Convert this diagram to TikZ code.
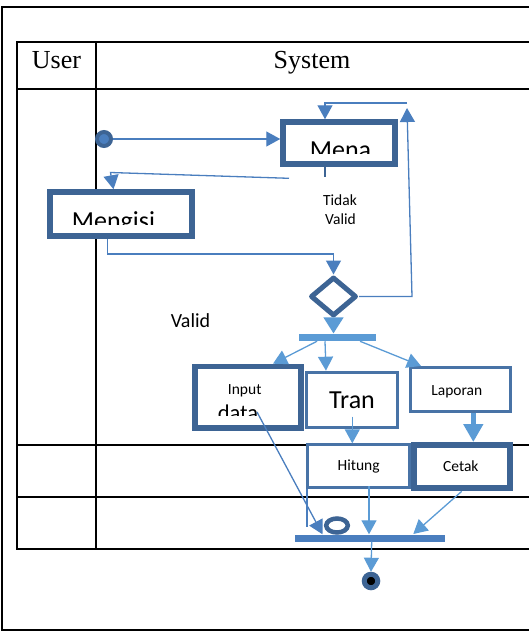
\documentclass[tikz,border=0pt]{standalone}
\usepackage{fontspec}
\setmainfont{Liberation Serif}
\newfontfamily\cali{Carlito}
\usepackage{tikz}
\usetikzlibrary{arrows.meta}
\usetikzlibrary{shapes.geometric}
\usepackage{xcolor}
\definecolor{boxblue}{RGB}{61,100,148}
\definecolor{thinblue}{RGB}{72,115,166}
\definecolor{linblue}{RGB}{74,126,190}
\definecolor{litblue}{RGB}{91,155,213}

\begin{document}
\begin{tikzpicture}[x=1pt, y=-1pt,
  lane/.style={black, line width=2pt},
  thickbox/.style={draw=boxblue, fill=white, line width=5.5pt, inner sep=0pt},
  thinbox/.style={draw=thinblue, fill=white, line width=3pt, inner sep=0pt},
  flow/.style={linblue, line width=1.3pt, -{Triangle[length=14pt,width=15pt]}},
  lflow/.style={litblue, line width=1.3pt, -{Triangle[length=14pt,width=15pt]}},
  smalltxt/.style={font=\cali\fontsize{15.5}{18}\selectfont, inner sep=0pt, anchor=base},
  bigtxt/.style={font=\cali\fontsize{26}{30}\selectfont, inner sep=0pt, anchor=base},
  headtxt/.style={font=\fontsize{26}{30}\selectfont, inner sep=0pt, anchor=base}]

\useasboundingbox (0,0) rectangle (529,632);

% frame and swimlanes
{
\draw[lane] (529,7) -- (2,7) -- (2,630) -- (529,630);
\draw[lane] (529,42) -- (17,42) -- (17,549) -- (529,549);
\draw[lane] (17,89) -- (529,89);
\draw[lane] (17,445) -- (529,445);
\draw[lane] (17,497) -- (529,497);
\draw[lane] (96,42) -- (96,549);

\node[headtxt] (user) at (56.5,68.3) {User};
\node[headtxt] (system) at (312,68.3) {System};
}

% start, login and form
{
\node[circle, draw=boxblue, fill=linblue, line width=4pt, minimum size=14pt, inner sep=0pt] (start) at (104,139) {};

\node[thickbox, minimum width=112pt, minimum height=42pt] (mena) at (339,143) {};
\begin{scope}
\clip (286,125) rectangle (392,153.3);
\node[bigtxt] (menatxt) at (340.5,158.4) {Mena};
\end{scope}

\node[thickbox, minimum width=142pt, minimum height=44pt] (mengisi) at (121,214) {};
\begin{scope}
\clip (53,195) rectangle (189,224.3);
\node[bigtxt] (mengisitxt) at (113.5,229.7) {Mengisi};
\end{scope}

\node[diamond, draw=boxblue, fill=white, line width=5pt, line join=round, minimum width=46pt, minimum height=39pt, inner sep=0pt] (cek) at (333.5,296.5) {};

\node[smalltxt] (tidak) at (340,205.7) {Tidak};
\node[smalltxt] (tidakvalid) at (340.5,224.3) {Valid};
\node[font=\cali\fontsize{20}{24}\selectfont, inner sep=0pt, anchor=base] (valid) at (190.5,327.7) {Valid};
}

% fork and activities
{
\node[fill=litblue, minimum width=77pt, minimum height=7.5pt, inner sep=0pt] (fork) at (337.5,337.3) {};

\node[thickbox, minimum width=106pt, minimum height=61.7pt] (input) at (247.8,397.3) {};
\node[smalltxt] (inputtxt) at (244.7,394.3) {Input};
\begin{scope}
\clip (198,400) rectangle (297,415);
\node[font=\cali\fontsize{22.5}{26}\selectfont, inner sep=0pt, anchor=base] (datatxt) at (238,420.8) {data};
\end{scope}

\node[thinbox, minimum width=91.3pt, minimum height=55.6pt] (tran) at (352.2,400) {};
\node[bigtxt] (trantxt) at (352,408.3) {Tran};

\node[thinbox, minimum width=100.3pt, minimum height=43.7pt] (lapor) at (460.3,389.3) {};
\node[smalltxt] (laportxt) at (456.8,395) {Laporan};

\node[thinbox, minimum width=102pt, minimum height=43pt] (hitung) at (358.5,466.3) {};
\node[smalltxt] (hitungtxt) at (358.7,470.7) {Hitung};

\node[thickbox, line width=6pt, minimum width=96.6pt, minimum height=43.3pt] (cetak) at (462,466.7) {};
\node[smalltxt] (cetaktxt) at (460.8,471.7) {Cetak};
}

% join and end
{
\node[fill=linblue, minimum width=150pt, minimum height=7pt, inner sep=0pt] (join) at (370.3,538) {};
\node[ellipse, draw=boxblue, line width=4.5pt, minimum width=21.6pt, minimum height=14pt, inner sep=0pt] (ring) at (337,525.5) {};
\node[circle, draw=boxblue, fill=black, line width=5pt, minimum size=13.5pt, inner sep=0pt] (stop) at (371,581) {};
}

% connectors
{
\draw[flow] (start) -- (mena.west |- start);

\coordinate (loopup) at (407,108);
\coordinate (looptop) at (407,103);
\draw[flow] (cek.east) -- (412,0 |- cek.east) -- (loopup);
\draw[flow] (looptop) -- (325,103) -- (325,0 |- mena.north);

\draw[boxblue, line width=1.5pt] (325,0 |- mena.south) -- (325,176.7);
\coordinate (balik) at (289,178.3);
\draw[flow] (balik) -- (110.5,172.5) -- (113.5,0 |- mengisi.north);

\draw[flow] (107.3,0 |- mengisi.south) -- (107.3,254) -- (333.5,254) -- (cek.north);

\draw[lflow, -{Triangle[length=16pt,width=20pt]}] (cek.south) -- (cek.south |- fork.north);

\draw[lflow] (317,0 |- fork.south) -- (273,0 |- input.north);
\draw[lflow] (325,0 |- fork.south) -- (326,0 |- tran.north);
\draw[lflow] (360,0 |- fork.south) -- (421,0 |- lapor.north);

\draw[lflow] (352.3,416.7) -- (352.3,0 |- hitung.north);
\draw[lflow, line width=5pt, -{Triangle[length=18pt,width=19pt]}] (473.3,0 |- lapor.south) -- (473.3,0 |- cetak.north);

\draw[flow] (257,412) -- (322.5,0 |- join.north);
\draw[linblue, line width=1.3pt] (307,0 |- hitung.south) -- (307,527);
\draw[lflow] (369,486) -- (369,0 |- join.north);
\draw[lflow] (461.7,0 |- cetak.south) -- (413.3,534);

\draw[lflow] (371.7,0 |- join.south) -- (stop.north);
}

\end{tikzpicture}
\end{document}
